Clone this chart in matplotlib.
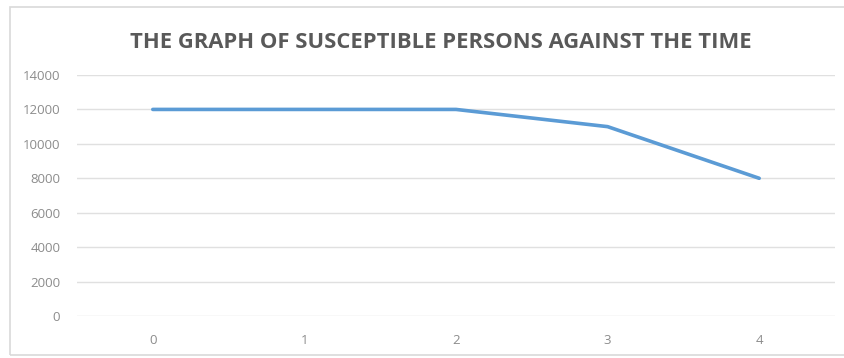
import matplotlib
matplotlib.use("Agg")
import matplotlib.pyplot as plt
from matplotlib.patches import Rectangle

# Susceptible population over time
time_labels = ["0", "1", "2", "3", "4"]
susceptible = [12000, 12000, 12000, 11000, 8000]
y_ticks = [0, 2000, 4000, 6000, 8000, 10000, 12000, 14000]

W, H = 845, 358
fig = plt.figure(figsize=(W / 100, H / 100), dpi=100)
fig.patch.set_facecolor("white")

# chart frame
fig.patches.append(Rectangle((10 / W, 3 / H), 845 / W, (351 - 3) / H,
                             transform=fig.transFigure, fill=False,
                             edgecolor="#d9d9d9", linewidth=1.2))

ax = fig.add_axes([77 / W, 1 - 316 / H, (835 - 77) / W, (316 - 75) / H])
x = list(range(len(time_labels)))
ax.plot(x, susceptible, color="#5b9bd5", linewidth=2.6, solid_capstyle="round")

ax.set_xlim(-0.5, len(time_labels) - 0.5)
ax.set_ylim(0, 14000)
ax.set_yticks(y_ticks)
ax.set_yticklabels([str(v) for v in y_ticks])
ax.set_xticks(x)
ax.set_xticklabels(time_labels)
ax.grid(axis="y", color="#e0e0e0", linewidth=1)
ax.set_axisbelow(True)
for s in ax.spines.values():
    s.set_visible(False)
ax.tick_params(axis="both", length=0, labelsize=9.5, labelcolor="#8c8c8c",
               labelfontfamily="Open Sans")
ax.tick_params(axis="y", pad=12)
ax.tick_params(axis="x", pad=13)

fig.text(441 / W, 1 - 43 / H, "THE GRAPH OF SUSCEPTIBLE PERSONS AGAINST THE TIME",
         ha="center", va="center", fontsize=15.8, color="#595959",
         fontfamily="Open Sans", fontweight="bold")

fig.savefig("out.png", dpi=100, facecolor="white")
